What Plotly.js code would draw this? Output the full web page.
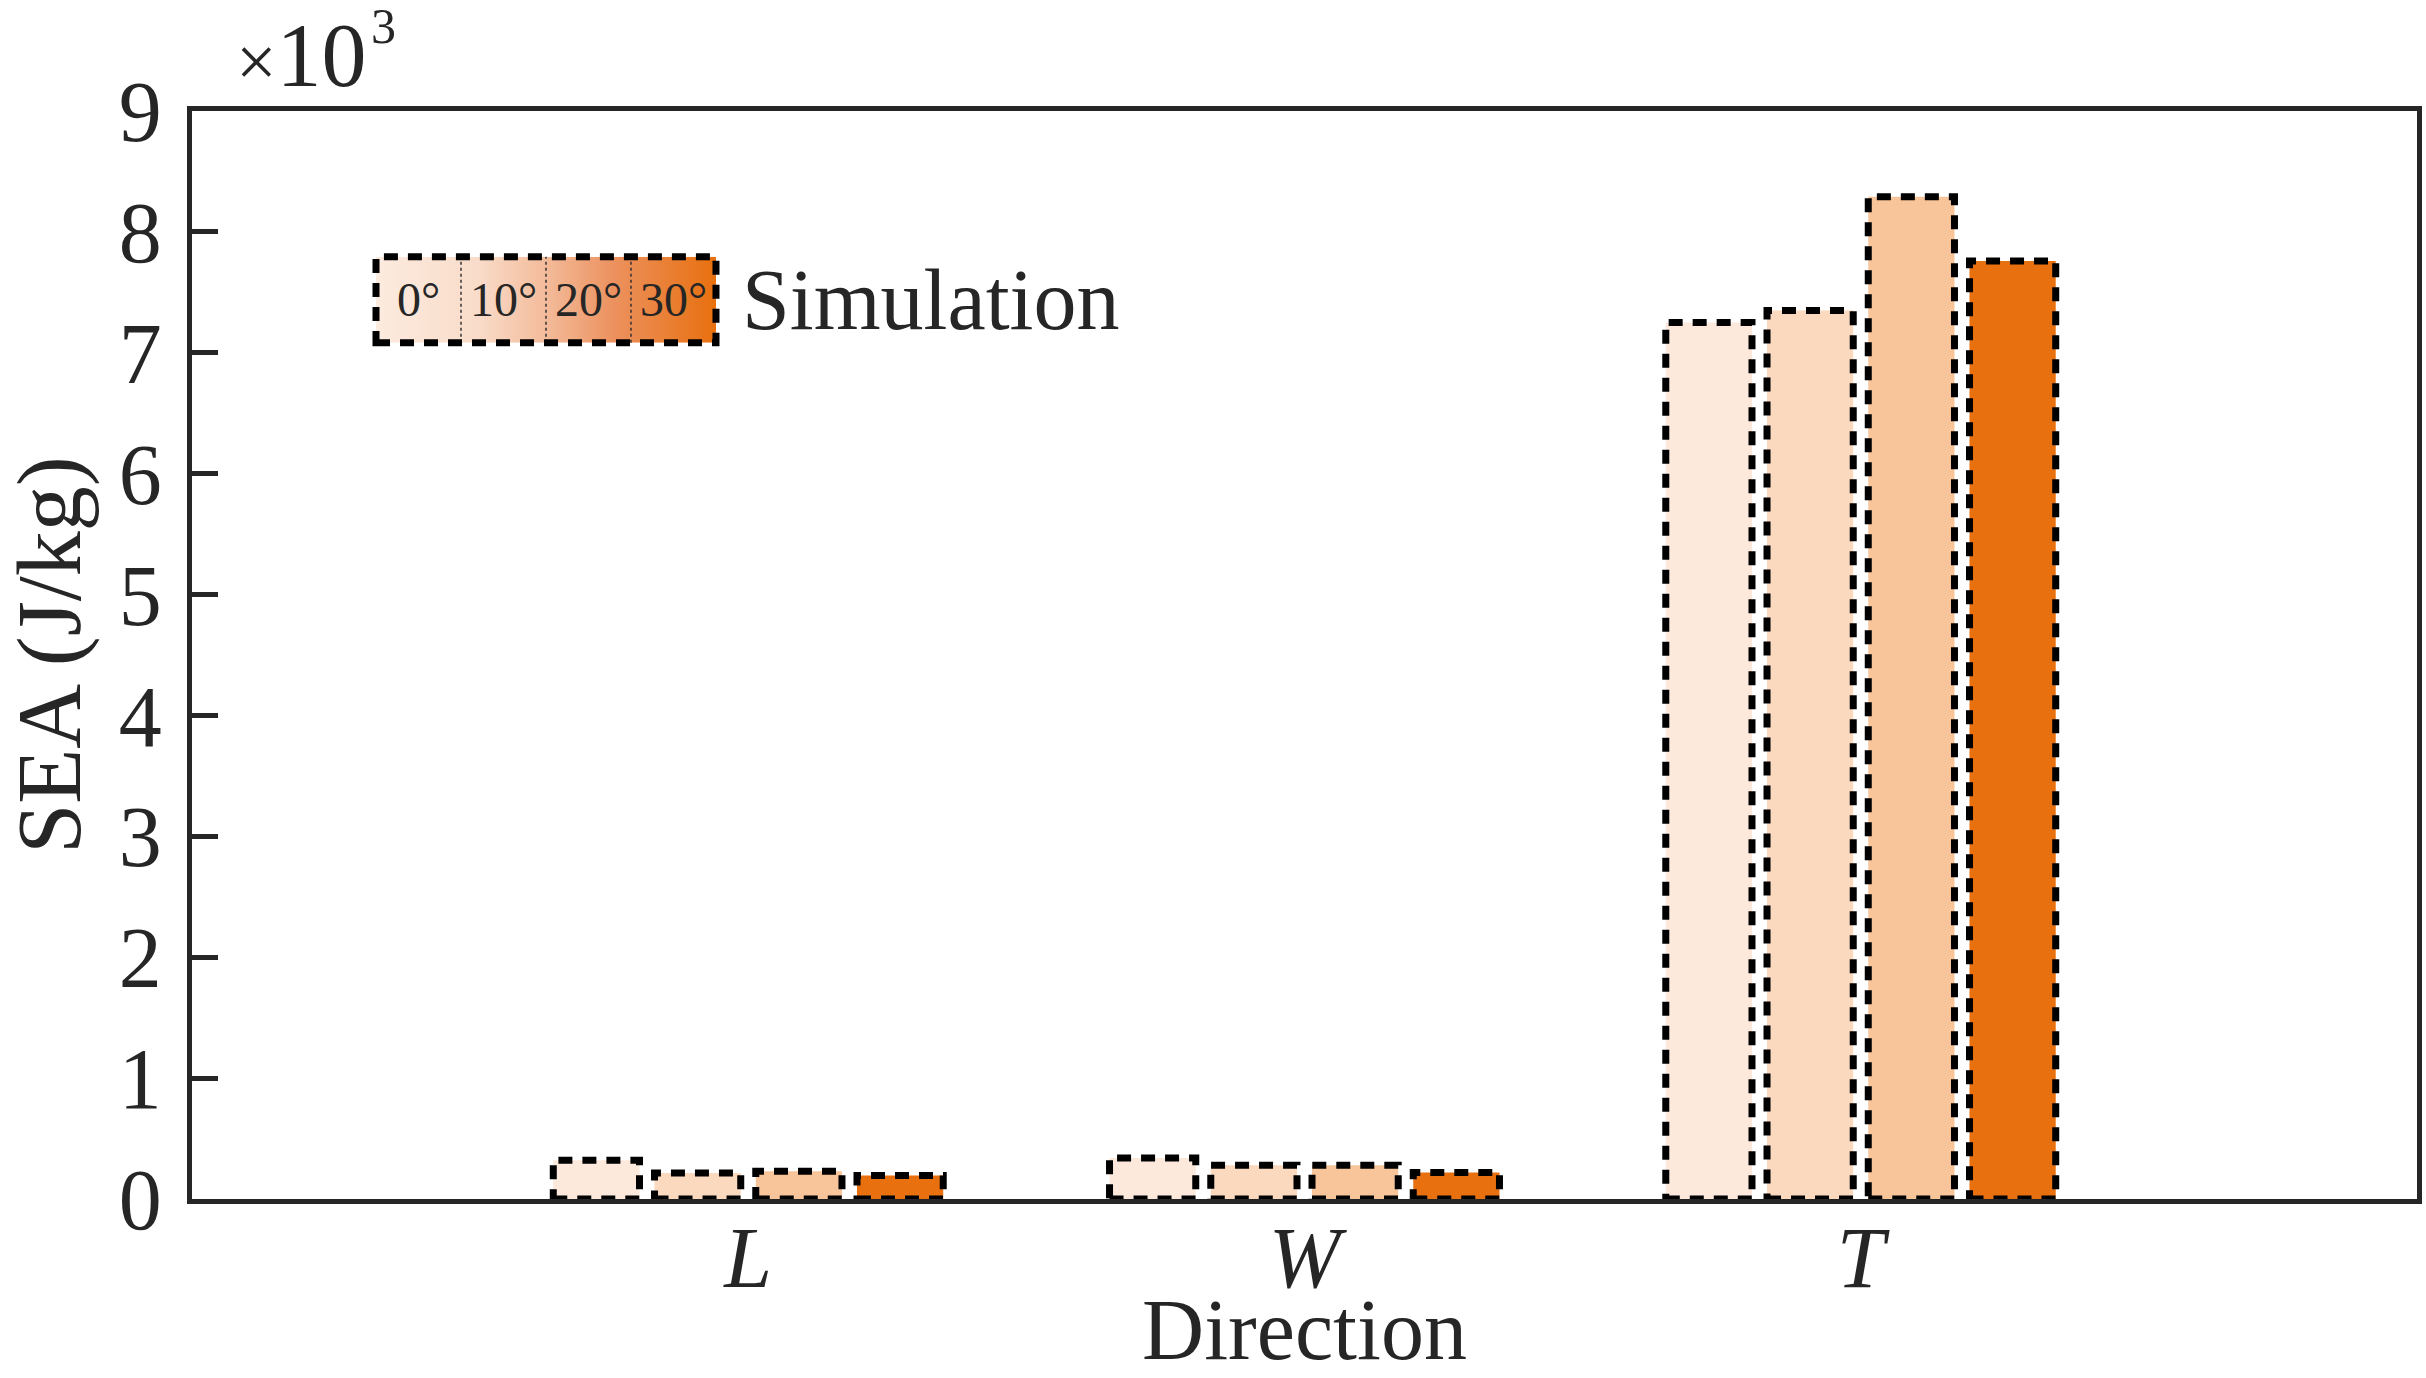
<!DOCTYPE html>
<html>
<head>
<meta charset="utf-8">
<script src="https://cdn.plot.ly/plotly-3.0.1.min.js"></script>
<style>
  html, body { margin: 0; padding: 0; background: #fff; }
  #chart { width: 2426px; height: 1378px; }
</style>
</head>
<body>
<div id="chart"></div>
<script>
// ─── data ───────────────────────────────────────────────
var directions = ['L', 'W', 'T'];
var angles = ['0°', '10°', '20°', '30°'];
var sea0 = [320, 340, 7250];    // J/kg
var sea10 = [215, 280, 7350];
var sea20 = [230, 280, 8290];
var sea30 = [195, 220, 7760];
var barColors = ['#FCE9DC', '#FAD9BE', '#F8C49A', '#E8700F'];
var yTicks = [0, 1000, 2000, 3000, 4000, 5000, 6000, 7000, 8000, 9000];

var series = [sea0, sea10, sea20, sea30];
var FONT = 'Liberation Serif, Times New Roman, serif';
var INK = '#262626';
var pitch = 0.182, barW = 0.155;
var DASH = { color: '#000', width: 7, dash: '14px,10px' };

var xPos = directions.map(function (_, i) { return i + 1; });
var traces = [];
var shapes = [];

series.forEach(function (vals, si) {
  var off = (si - 2) * pitch + (pitch - barW) / 2;
  traces.push({
    type: 'bar', name: angles[si],
    x: xPos, y: vals,
    offset: off, width: barW,
    marker: { color: barColors[si], line: { width: 0 } },
    hoverinfo: 'x+y+name', showlegend: false
  });
  // dashed outline on each bar (marker.line has no dash)
  vals.forEach(function (v, ci) {
    shapes.push({
      type: 'rect', xref: 'x', yref: 'y',
      x0: xPos[ci] + off, x1: xPos[ci] + off + barW, y0: 0, y1: v,
      line: DASH, fillcolor: 'rgba(0,0,0,0)', layer: 'above'
    });
  });
});

// ── legend block: gradient strip + dashed frame ──
var lx0 = 0.0827, lx1 = 0.2355, ly0 = 0.787, ly1 = 0.866;
var grad = '<svg xmlns="http://www.w3.org/2000/svg" width="340" height="86" preserveAspectRatio="none">' +
  '<defs><linearGradient id="g" x1="0" y1="0" x2="1" y2="0">' +
  '<stop offset="0" stop-color="#FCEBDF"/><stop offset="0.3" stop-color="#F9DCC9"/>' +
  '<stop offset="0.5" stop-color="#F3BB9A"/><stop offset="0.7" stop-color="#EC915E"/>' +
  '<stop offset="1" stop-color="#E8700F"/></linearGradient></defs>' +
  '<rect width="340" height="86" fill="url(#g)"/></svg>';
var images = [{
  source: 'data:image/svg+xml;charset=utf-8,' + encodeURIComponent(grad),
  xref: 'paper', yref: 'paper', x: lx0, y: ly1,
  sizex: lx1 - lx0, sizey: ly1 - ly0, sizing: 'stretch',
  xanchor: 'left', yanchor: 'top', layer: 'above'
}];
var annotations = [];
var q = (lx1 - lx0) / 4;
var lyMid = (ly0 + ly1) / 2;
angles.forEach(function (a, i) {
  if (i > 0) {
    shapes.push({ type: 'line', xref: 'paper', yref: 'paper',
      x0: lx0 + q * i, x1: lx0 + q * i, y0: ly0, y1: ly1,
      line: { color: '#333', width: 1.5, dash: 'dot' } });
  }
  annotations.push({ xref: 'paper', yref: 'paper', x: lx0 + q * (i + 0.5), y: lyMid,
    xanchor: 'center', yanchor: 'middle',
    text: a, showarrow: false, font: { family: FONT, size: 48, color: INK } });
});
shapes.push({ type: 'rect', xref: 'paper', yref: 'paper', x0: lx0, x1: lx1, y0: ly0, y1: ly1,
  line: DASH, layer: 'above' });
annotations.push({ xref: 'paper', yref: 'paper', x: 0.2465, y: lyMid,
  xanchor: 'left', yanchor: 'middle', text: 'Simulation', showarrow: false,
  font: { family: FONT, size: 86, color: INK } });

// exponent label
annotations.push({ xref: 'paper', yref: 'paper', x: 0.019, y: 1, xanchor: 'left', yanchor: 'bottom',
  yshift: 4, text: '<span style="font-size:72px">×</span>10', showarrow: false,
  font: { family: FONT, size: 90, color: INK } });
annotations.push({ xref: 'paper', yref: 'paper', x: 0.0795, y: 1.051, xanchor: 'left', yanchor: 'bottom',
  text: '3', showarrow: false, font: { family: FONT, size: 50, color: INK } });

var layout = {
  width: 2426, height: 1378,
  margin: { l: 192, r: 9, t: 111, b: 179 },
  paper_bgcolor: '#fff', plot_bgcolor: '#fff',
  font: { family: FONT, size: 86, color: INK },
  showlegend: false,
  xaxis: {
    range: [0, 4],
    tickvals: xPos,
    ticktext: directions.map(function (d) { return '<i>' + d + '</i>'; }),
    ticks: '', showgrid: false, zeroline: false,
    showline: true, mirror: true, linecolor: INK, linewidth: 5,
    ticklabelstandoff: -20,
    title: { text: 'Direction', font: { family: FONT, size: 86, color: INK }, standoff: 36 }
  },
  yaxis: {
    range: [0, 9000],
    tickvals: yTicks,
    ticktext: yTicks.map(function (v) { return String(v / 1000); }),
    ticks: 'inside', ticklen: 26, tickwidth: 5, tickcolor: INK,
    showgrid: false, zeroline: false,
    showline: true, mirror: true, linecolor: INK, linewidth: 5,
    ticklabelstandoff: 8,
    title: { text: 'SEA (J/kg)', font: { family: FONT, size: 90, color: INK }, standoff: 54 }
  },
  shapes: shapes,
  images: images,
  annotations: annotations
};

Plotly.newPlot('chart', traces, layout, { staticPlot: true, displayModeBar: false });
</script>
</body>
</html>
